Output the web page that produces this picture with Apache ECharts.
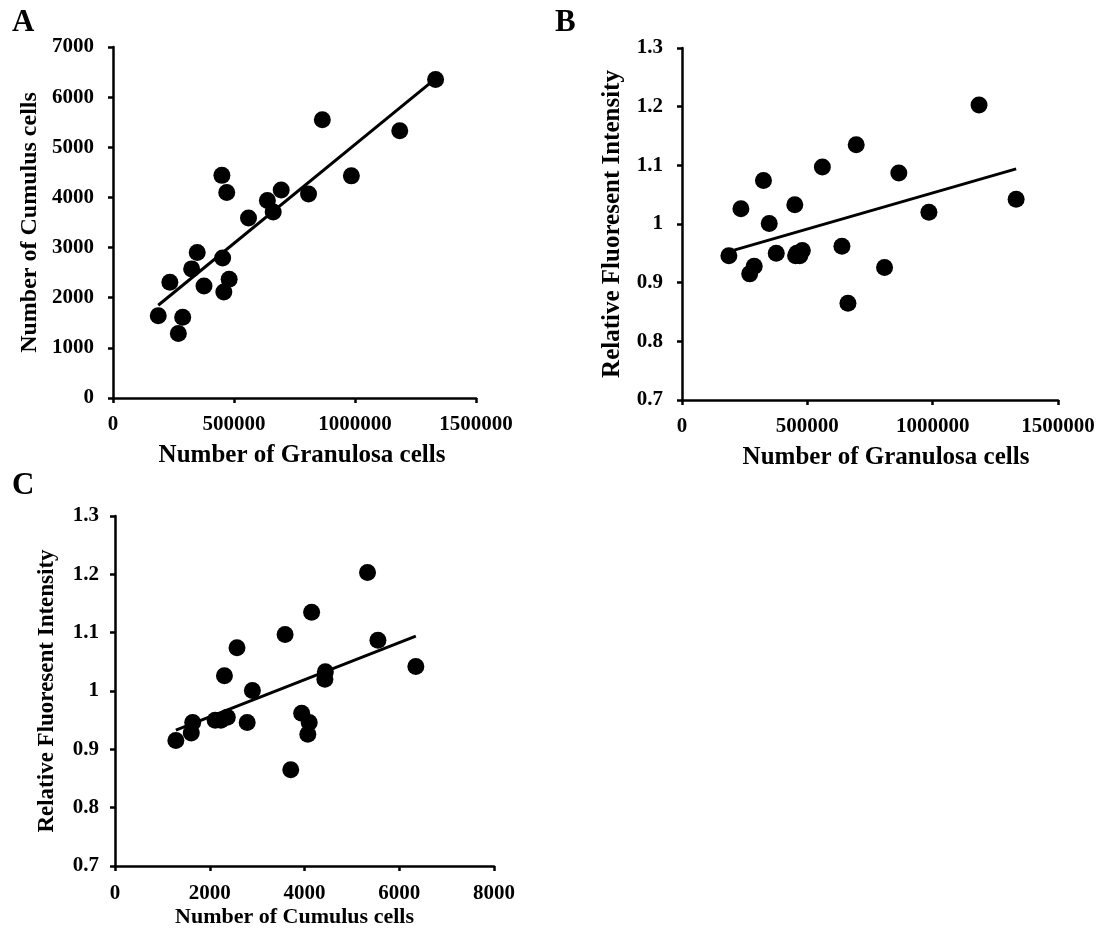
<!DOCTYPE html>
<html>
<head>
<meta charset="utf-8">
<title>Granulosa / Cumulus</title>
<script src="https://cdn.jsdelivr.net/npm/echarts@6/dist/echarts.min.js"></script>
<style>
	html, body {
		margin: 0;
		padding: 0;
		background: #fff;
	}
	#chart {
		width: 1104px;
		height: 935px;
	}
</style>
</head>
<body>
<div id="chart"></div>
<script>
	// values, one entry per sample
	var granulosa = [187000, 235000, 270000, 288000, 325000, 348000, 376000, 450000, 453000, 458000, 470000,
		480000, 560000, 638000, 662000, 695000, 808000, 865000, 985000, 1185000, 1333000];
	var cumulus = [1640, 2310, 1285, 1610, 2575, 2900, 2235, 4440, 2790, 2115, 4100,
		2370, 3590, 3940, 3710, 4150, 4070, 5550, 4430, 5330, 6350];
	var intensity = [0.946, 1.026, 0.915, 0.928, 1.074, 1.001, 0.950, 1.033, 0.946, 0.950, 0.946,
		0.955, 1.097, 0.962, 0.865, 1.135, 0.926, 1.087, 1.020, 1.203, 1.042];

	// trendline end points as drawn in the figure
	var trendA = [[187000, 1850], [1333000, 6370]];
	var trendB = [[187000, 0.953], [1333000, 1.094]];
	var trendC = [[1285, 0.933], [6350, 1.094]];

	var granulosaTicks = [0, 500000, 1000000, 1500000];
	var cumulusTicks = [0, 2000, 4000, 6000, 8000];

	function pairs(xs, ys) {
		var out = [];
		for (var i = 0; i < xs.length; i++) {
			out.push([xs[i], ys[i]]);
		}
		return out;
	}

	var font = "'Liberation Serif', 'Times New Roman', serif";

	function plainLabel(v) {
		return String(v);
	}

	function intensityLabel(v) {
		return String(+v.toFixed(1));
	}

	function valueAxis(gridIndex, min, max, interval, name, nameGap, fontSize, margin, namePad, fmt) {
		return {
			type: 'value',
			gridIndex: gridIndex,
			min: min,
			max: max,
			interval: interval,
			name: name,
			nameLocation: 'middle',
			nameGap: nameGap,
			nameTextStyle: {
				color: '#000',
				fontFamily: font,
				fontWeight: 'bold',
				fontSize: fontSize,
				padding: namePad
			},
			axisLine: {
				show: true,
				lineStyle: {color: '#000', width: 2.5}
			},
			axisTick: {
				show: true,
				inside: false,
				length: 5,
				lineStyle: {color: '#000', width: 2.5}
			},
			axisLabel: {
				color: '#000',
				fontFamily: font,
				fontWeight: 'bold',
				fontSize: 21,
				margin: margin,
				formatter: fmt
			},
			splitLine: {show: false}
		};
	}

	function scatter(idx, data) {
		return {
			type: 'scatter',
			xAxisIndex: idx,
			yAxisIndex: idx,
			symbol: 'circle',
			symbolSize: 17,
			itemStyle: {color: '#000', opacity: 1},
			data: data,
			z: 2
		};
	}

	function trend(idx, data) {
		return {
			type: 'line',
			xAxisIndex: idx,
			yAxisIndex: idx,
			data: data,
			showSymbol: false,
			symbol: 'none',
			lineStyle: {color: '#000', width: 3},
			z: 3
		};
	}

	var option = {
		animation: false,
		backgroundColor: '#fff',
		grid: [
			{left: 113, top: 47, right: 628, bottom: 537},
			{left: 682, top: 48, right: 46, bottom: 535},
			{left: 115, top: 516, right: 610, bottom: 69}
		],
		xAxis: [
			valueAxis(0, granulosaTicks[0], granulosaTicks[3], 500000, 'Number of Granulosa cells', 45, 25, 16, [0, 0, 0, 15], plainLabel),
			valueAxis(1, granulosaTicks[0], granulosaTicks[3], 500000, 'Number of Granulosa cells', 45, 25, 16, [0, 0, 0, 32], plainLabel),
			valueAxis(2, cumulusTicks[0], cumulusTicks[4], 2000, 'Number of Cumulus cells', 40, 22, 17, [0, 20, 0, 0], plainLabel)
		],
		yAxis: [
			valueAxis(0, 0, 7000, 1000, 'Number of Cumulus cells', 71, 24, 19, 0, plainLabel),
			valueAxis(1, 0.7, 1.3, 0.1, 'Relative Fluoresent Intensity', 57, 25, 19, 0, intensityLabel),
			valueAxis(2, 0.7, 1.3, 0.1, 'Relative Fluoresent Intensity', 56, 23, 16, 0, intensityLabel)
		],
		graphic: [
			{type: 'text', left: 12, top: 7, style: {text: 'A', font: 'bold 31px ' + font, fill: '#000'}},
			{type: 'text', left: 555, top: 7, style: {text: 'B', font: 'bold 31px ' + font, fill: '#000'}},
			{type: 'text', left: 12, top: 470, style: {text: 'C', font: 'bold 31px ' + font, fill: '#000'}}
		],
		series: [
			scatter(0, pairs(granulosa, cumulus)),
			trend(0, trendA),
			scatter(1, pairs(granulosa, intensity)),
			trend(1, trendB),
			scatter(2, pairs(cumulus, intensity)),
			trend(2, trendC)
		]
	};

	var myChart = echarts.init(document.getElementById('chart'));
	myChart.setOption(option);
</script>
</body>
</html>
